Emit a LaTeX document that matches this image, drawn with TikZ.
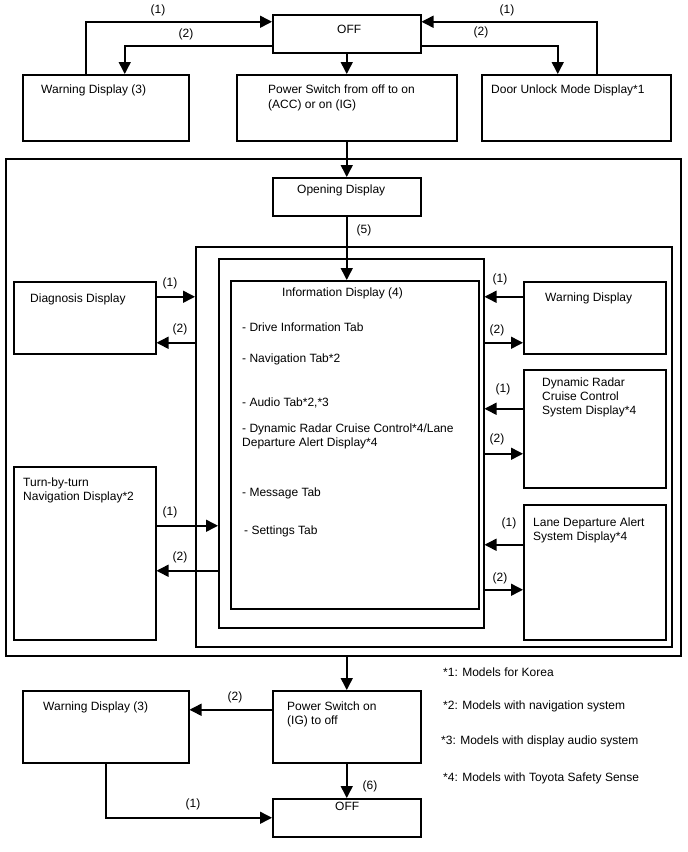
\documentclass[tikz,border=0pt]{standalone}
\usepackage{fontspec}
\setmainfont{Liberation Sans}
\usetikzlibrary{arrows.meta}
\tikzset{
  box/.style={draw, line width=1.5pt, inner sep=0pt, anchor=north west},
  arr/.style={line width=1.5pt, -{Triangle[length=12pt,width=12pt]}},
  txt/.style={anchor=base west, inner sep=0pt, font=\fontsize{12}{14}\selectfont},
  lbl/.style={anchor=base, inner sep=0pt, font=\fontsize{12}{14}\selectfont}
}
\begin{document}
\begin{tikzpicture}[x=1pt,y=-1pt]
\fill[white] (0,0) rectangle (688,852);
\useasboundingbox (0,0) rectangle (688,852);
% boxes
\node[box, minimum width=148, minimum height=38] (off1) at (272,14) {};
\node[box, minimum width=166, minimum height=66] (warnA) at (22,74) {};
\node[box, minimum width=220, minimum height=66] (pwr1) at (236,74) {};
\node[box, minimum width=189, minimum height=66] (door) at (481,74) {};
\node[box, minimum width=675, minimum height=497] (outer) at (5,158) {};
\node[box, minimum width=148, minimum height=38] (opening) at (272,177) {};
\node[box, minimum width=476, minimum height=400] (boxA) at (195,246) {};
\node[box, minimum width=265, minimum height=369] (boxB) at (218,258) {};
\node[box, minimum width=248, minimum height=328] (info) at (230,280) {};
\node[box, minimum width=142, minimum height=72] (diag) at (13,281) {};
\node[box, minimum width=142, minimum height=72] (warnR) at (523,281) {};
\node[box, minimum width=142, minimum height=118] (drcc) at (523,369) {};
\node[box, minimum width=142, minimum height=135] (lda) at (523,504) {};
\node[box, minimum width=142, minimum height=173] (tbt) at (13,466) {};
\node[box, minimum width=148, minimum height=72] (pwr2) at (272,690) {};
\node[box, minimum width=166, minimum height=72] (warnB) at (22,690) {};
\node[box, minimum width=148, minimum height=38] (off2) at (272,798) {};
% box texts
\node[txt] (t-off1) at (337,33) {OFF};
\node[txt] (t-warnA) at (41,93) {Warning Display (3)};
\node[txt] (t-pwr1a) at (268,93) {Power Switch from off to on};
\node[txt] (t-pwr1b) at (268,108) {(ACC) or on (IG)};
\node[txt] (t-door) at (491,93) {Door Unlock Mode Display*1};
\node[txt] (t-open) at (297,193) {Opening Display};
\node[txt] (t-info) at (282,296) {Information Display (4)};
\node[txt] (t-i1) at (242,331) {- Drive Information Tab};
\node[txt] (t-i2) at (242,362) {- Navigation Tab*2};
\node[txt] (t-i3) at (242,406) {- Audio Tab*2,*3};
\node[txt] (t-i4) at (242,432) {- Dynamic Radar Cruise Control*4/Lane};
\node[txt] (t-i4b) at (242,446) {Departure Alert Display*4};
\node[txt] (t-i5) at (242,496) {- Message Tab};
\node[txt] (t-i6) at (244,534) {- Settings Tab};
\node[txt] (t-diag) at (30,302) {Diagnosis Display};
\node[txt] (t-warnR) at (545,301) {Warning Display};
\node[txt] (t-drcc1) at (542,386) {Dynamic Radar};
\node[txt] (t-drcc2) at (542,400) {Cruise Control};
\node[txt] (t-drcc3) at (542,414) {System Display*4};
\node[txt] (t-lda1) at (533,526) {Lane Departure Alert};
\node[txt] (t-lda2) at (533,540) {System Display*4};
\node[txt] (t-tbt1) at (23,486) {Turn-by-turn};
\node[txt] (t-tbt2) at (23,500) {Navigation Display*2};
\node[txt] (t-warnB) at (43,710) {Warning Display (3)};
\node[txt] (t-pwr2a) at (287,710) {Power Switch on};
\node[txt] (t-pwr2b) at (287,724) {(IG) to off};
\node[txt] (t-off2) at (335,810) {OFF};
% footnotes
\node[txt] (n1) at (443,676) {*1: Models for Korea};
\node[txt] (n2) at (443,709) {*2: Models with navigation system};
\node[txt] (n3) at (441,744) {*3: Models with display audio system};
\node[txt] (n4) at (443,781) {*4: Models with Toyota Safety Sense};
% top connectors
\draw[arr] ([xshift=-20]warnA.north) |- ([yshift=12]off1.west);
\draw[arr] ([yshift=-12]off1.west) -| ([xshift=19]warnA.north);
\draw[arr] ([xshift=20.5]door.north) |- ([yshift=12]off1.east);
\draw[arr] ([yshift=-12]off1.east) -| ([xshift=-18.5]door.north);
\draw[arr] (off1.south) -- (pwr1.north);
\draw[arr] (pwr1.south) -- (opening.north);
\draw[arr] (opening.south) -- (opening.south |- info.north);
\node[lbl] (l1a) at (158,13) {(1)};
\node[lbl] (l2a) at (186,37) {(2)};
\node[lbl] (l1b) at (507,13) {(1)};
\node[lbl] (l2b) at (481,35) {(2)};
\node[lbl] (l5) at (364,233) {(5)};
% side connectors
\coordinate (d1) at ([yshift=21]diag.east);
\coordinate (d2) at ([yshift=-25]diag.east);
\draw[arr] (d1) -- (d1 -| boxA.west);
\draw[arr] (d2 -| boxA.west) -- (d2);
\coordinate (w1) at ([yshift=21]warnR.west);
\coordinate (w2) at ([yshift=-25]warnR.west);
\draw[arr] (w1) -- (w1 -| boxB.east);
\draw[arr] (w2 -| boxB.east) -- (w2);
\coordinate (r1) at ([yshift=20]drcc.west);
\coordinate (r2) at ([yshift=-25]drcc.west);
\draw[arr] (r1) -- (r1 -| boxB.east);
\draw[arr] (r2 -| boxB.east) -- (r2);
\coordinate (a1) at ([yshift=27.5]lda.west);
\coordinate (a2) at ([yshift=-17.5]lda.west);
\draw[arr] (a1) -- (a1 -| boxB.east);
\draw[arr] (a2 -| boxB.east) -- (a2);
\coordinate (b1) at ([yshift=27.5]tbt.east);
\coordinate (b2) at ([yshift=-17.5]tbt.east);
\draw[arr] (b1) -- (b1 -| boxB.west);
\draw[arr] (b2 -| boxB.west) -- (b2);
\node[lbl] (ld1) at (170,286) {(1)};
\node[lbl] (ld2) at (180,332) {(2)};
\node[lbl] (lw1) at (500,282) {(1)};
\node[lbl] (lw2) at (497,333) {(2)};
\node[lbl] (lr1) at (503,392) {(1)};
\node[lbl] (lr2) at (497,442) {(2)};
\node[lbl] (la1) at (509,526) {(1)};
\node[lbl] (la2) at (500,581) {(2)};
\node[lbl] (lb1) at (170,515) {(1)};
\node[lbl] (lb2) at (180,560) {(2)};
% bottom connectors
\draw[arr] (outer.south -| pwr2.north) -- (pwr2.north);
\coordinate (p1) at ([yshift=17]pwr2.west);
\draw[arr] (p1) -- (p1 -| warnB.east);
\draw[arr] (pwr2.south) -- (off2.north);
\draw[arr] (warnB.south) |- (off2.west);
\node[lbl] (lp2) at (235,700) {(2)};
\node[lbl] (l6) at (370,789) {(6)};
\node[lbl] (lp1) at (193,807) {(1)};
\end{tikzpicture}
\end{document}
